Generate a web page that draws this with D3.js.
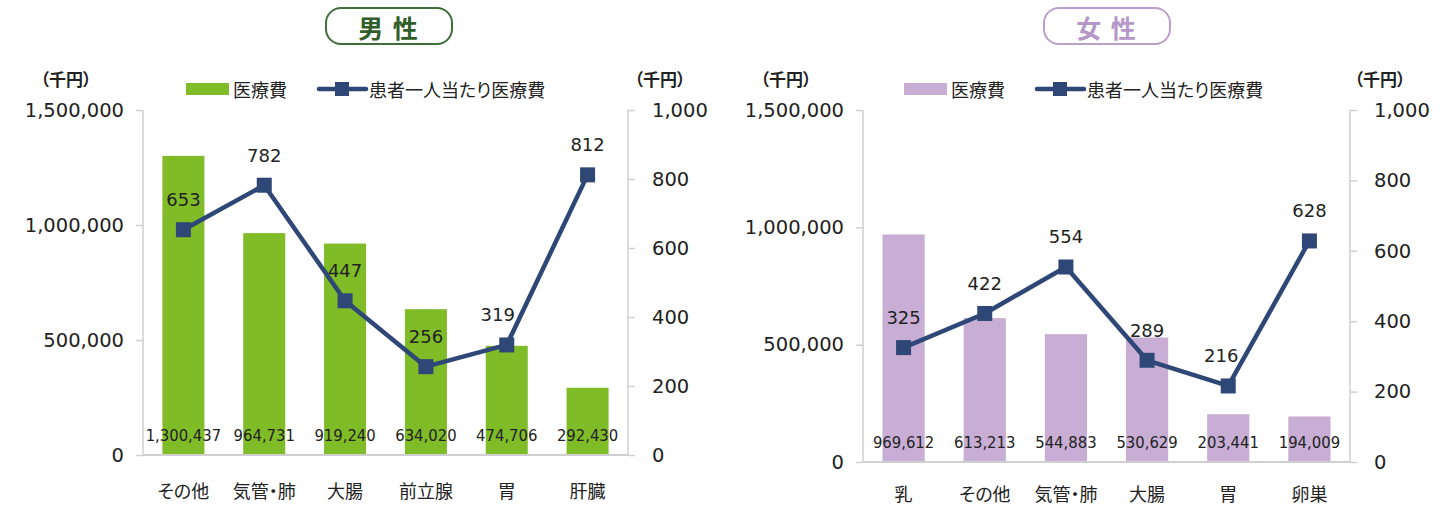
<!DOCTYPE html>
<html>
<head>
<meta charset="utf-8">
<script src="https://cdn.jsdelivr.net/npm/d3@7"></script>
<style>
  body { margin: 0; background: #fff; }
  svg { display: block; }
  .jp { font-feature-settings: "palt"; }
</style>
</head>
<body>
<script>
// data
const maleCategories = ['その他', '気管・肺', '大腸', '前立腺', '胃', '肝臓'];
const maleCost = [1300437, 964731, 919240, 634020, 474706, 292430];
const malePerPatient = [653, 782, 447, 256, 319, 812];

const femaleCategories = ['乳', 'その他', '気管・肺', '大腸', '胃', '卵巣'];
const femaleCost = [969612, 613213, 544883, 530629, 203441, 194009];
const femalePerPatient = [325, 422, 554, 289, 216, 628];

const costTicks = [0, 500000, 1000000, 1500000];
const perTicks = [0, 200, 400, 600, 800, 1000];

const legendCost = '医療費';
const legendPer = '患者一人当たり医療費';
const unitLabel = '（千円）';

const JP = '"Noto Sans CJK JP", sans-serif';
const NUM = '"DejaVu Sans", sans-serif';
const NUMC = '"DejaVu Sans Condensed", "DejaVu Sans", sans-serif';
const lineColor = '#2e4776';

const svg = d3.select('body')
  .append('svg')
  .attr('width', 1454)
  .attr('height', 506);

const fmt = d3.format(',');

function drawPanel(p) {
  const g = svg.append('g');

  // title box
  g.append('rect')
    .attr('x', p.titleX - 63).attr('y', 8)
    .attr('width', 126).attr('height', 36)
    .attr('rx', 15)
    .attr('fill', '#fff')
    .attr('stroke', p.titleStroke)
    .attr('stroke-width', 2);
  g.append('text')
    .attr('x', p.titleX).attr('y', 27)
    .attr('text-anchor', 'middle')
    .attr('dominant-baseline', 'central')
    .attr('font-family', JP)
    .attr('font-weight', 'bold')
    .attr('font-size', 25)
    .attr('letter-spacing', 2)
    .attr('fill', p.titleColor)
    .text(p.title);

  const x = d3.scaleBand()
    .domain(p.categories)
    .range([p.left, p.right])
    .paddingInner(0.48)
    .paddingOuter(0.24);

  const y = d3.scaleLinear().domain([0, 1500000]).range([p.base, p.top]);
  const y2 = d3.scaleLinear().domain([0, 1000]).range([p.base, p.top]);

  // axes
  const yAxis = g.append('g')
    .attr('transform', 'translate(' + p.left + ',0)')
    .call(d3.axisLeft(y).tickValues(costTicks).tickFormat(fmt).tickSize(7).tickPadding(12));
  const y2Axis = g.append('g')
    .attr('transform', 'translate(' + p.right + ',0)')
    .call(d3.axisRight(y2).tickValues(perTicks).tickFormat(fmt).tickSize(7).tickPadding(17));
  [yAxis, y2Axis].forEach(a => {
    a.select('.domain').attr('stroke', '#d0d0d0').attr('stroke-width', 1.5)
      .attr('d', 'M0,' + p.top + 'V' + p.base);
    a.selectAll('.tick line').attr('stroke', '#d0d0d0').attr('stroke-width', 1.5);
    a.selectAll('.tick text')
      .attr('font-family', NUM).attr('font-size', 19.5).attr('fill', '#222');
  });

  // bars
  g.selectAll('.bar')
    .data(p.cost)
    .enter()
    .append('rect')
    .attr('x', (d, i) => x(p.categories[i]))
    .attr('width', x.bandwidth())
    .attr('y', d => y(d))
    .attr('height', d => p.base - y(d))
    .attr('fill', p.barColor);

  // baseline
  g.append('line')
    .attr('x1', p.left).attr('x2', p.right)
    .attr('y1', p.base).attr('y2', p.base)
    .attr('stroke', '#d0d0d0').attr('stroke-width', 2);

  // bar value labels
  g.selectAll('.barlabel')
    .data(p.cost)
    .enter()
    .append('text')
    .attr('x', (d, i) => x(p.categories[i]) + x.bandwidth() / 2)
    .attr('y', p.base - 20)
    .attr('text-anchor', 'middle')
    .attr('dominant-baseline', 'central')
    .attr('font-family', NUMC)
    .attr('font-size', 16.5)
    .attr('fill', '#222')
    .text(d => fmt(d));

  // category labels
  g.selectAll('.cat')
    .data(p.categories)
    .enter()
    .append('text')
    .attr('class', 'jp')
    .attr('x', d => x(d) + x.bandwidth() / 2)
    .attr('y', p.catY)
    .attr('text-anchor', 'middle')
    .attr('dominant-baseline', 'central')
    .attr('font-family', JP)
    .attr('font-size', 18)
    .attr('fill', '#222')
    .text(d => d);

  // line
  const cx = (i) => x(p.categories[i]) + x.bandwidth() / 2;
  g.append('path')
    .datum(p.per)
    .attr('fill', 'none')
    .attr('stroke', lineColor)
    .attr('stroke-width', 4.5)
    .attr('stroke-linejoin', 'round')
    .attr('d', d3.line().x((d, i) => cx(i)).y(d => y2(d)));

  g.selectAll('.marker')
    .data(p.per)
    .enter()
    .append('rect')
    .attr('x', (d, i) => cx(i) - 7.5)
    .attr('y', d => y2(d) - 7.5)
    .attr('width', 15).attr('height', 15)
    .attr('fill', lineColor);

  g.selectAll('.perlabel')
    .data(p.per)
    .enter()
    .append('text')
    .attr('x', (d, i) => cx(i) + (p.labelDx[i] || 0))
    .attr('y', d => y2(d) - 30)
    .attr('text-anchor', 'middle')
    .attr('dominant-baseline', 'central')
    .attr('font-family', NUM)
    .attr('font-size', 18)
    .attr('fill', '#222')
    .text(d => d);

  // unit labels
  [p.unitLeft, p.unitRight].forEach(ux => {
    g.append('text')
      .attr('class', 'jp')
      .attr('x', ux).attr('y', 78)
      .attr('text-anchor', 'middle')
      .attr('dominant-baseline', 'central')
      .attr('font-family', JP)
      .attr('font-weight', 'bold')
      .attr('font-size', 17)
      .attr('fill', '#222')
      .text(unitLabel);
  });

  // legend
  const lg = g.append('g').attr('transform', 'translate(' + p.legendX + ',89)');
  lg.append('rect')
    .attr('x', 0).attr('y', -6).attr('width', 43).attr('height', 12)
    .attr('fill', p.barColor);
  lg.append('text')
    .attr('class', 'jp')
    .attr('x', 47).attr('y', 0)
    .attr('dominant-baseline', 'central')
    .attr('font-family', JP).attr('font-size', 18).attr('fill', '#222')
    .text(legendCost);
  lg.append('line')
    .attr('x1', 133).attr('x2', 180).attr('y1', 0).attr('y2', 0)
    .attr('stroke', lineColor).attr('stroke-width', 4.5).attr('stroke-linecap', 'round');
  lg.append('rect')
    .attr('x', 149).attr('y', -7).attr('width', 14).attr('height', 14)
    .attr('fill', lineColor);
  lg.append('text')
    .attr('class', 'jp')
    .attr('x', 183).attr('y', 0)
    .attr('dominant-baseline', 'central')
    .attr('font-family', JP).attr('font-size', 18).attr('fill', '#222')
    .text(legendPer);
}

drawPanel({
  title: '男 性', titleX: 389, titleColor: '#2f5e29', titleStroke: '#3f6f39',
  categories: maleCategories, cost: maleCost, per: malePerPatient,
  left: 143, right: 628, top: 110, base: 455, catY: 490,
  barColor: '#7fbc28',
  labelDx: [0, 0, 0, 0, -9, 0],
  unitLeft: 66, unitRight: 660,
  legendX: 186
});

drawPanel({
  title: '女 性', titleX: 1107, titleColor: '#b698c8', titleStroke: '#b9a0cc',
  categories: femaleCategories, cost: femaleCost, per: femalePerPatient,
  left: 863, right: 1350, top: 110, base: 462, catY: 493,
  barColor: '#c8aed4',
  labelDx: [0, 0, 0, 0, -7, 0],
  unitLeft: 786, unitRight: 1380,
  legendX: 904
});
</script>
</body>
</html>
